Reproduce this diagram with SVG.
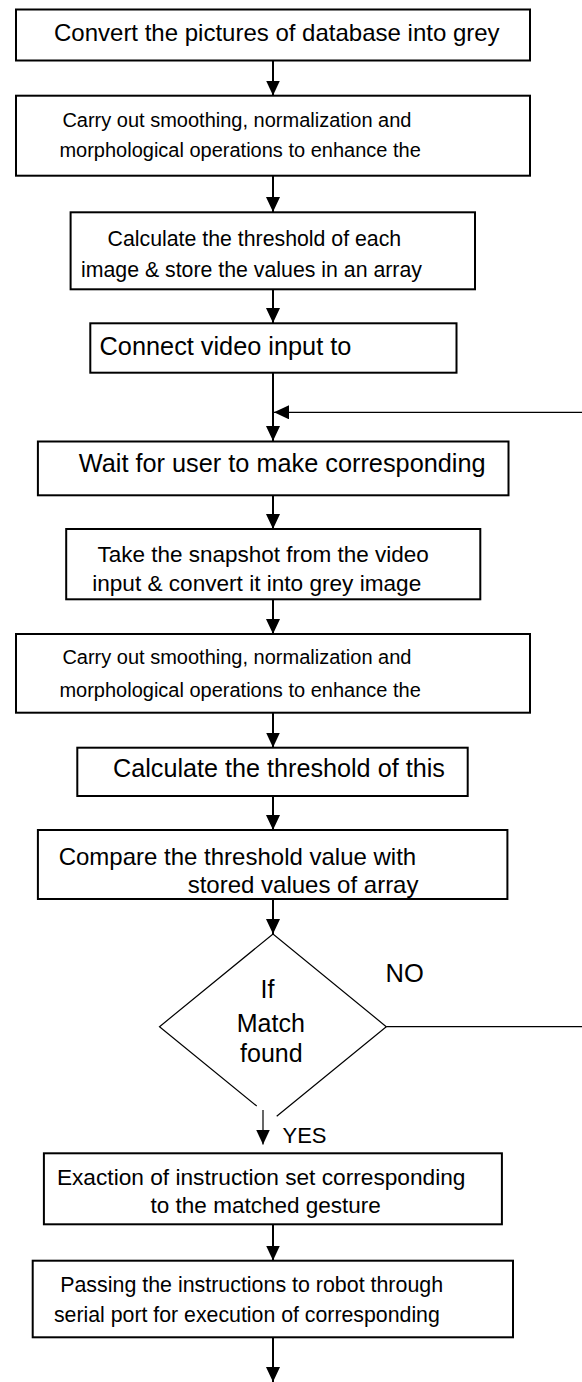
<svg xmlns="http://www.w3.org/2000/svg" width="582" height="1382" viewBox="0 0 582 1382">
<style>
.box{fill:#fff;stroke:#000;stroke-width:2}
.t{font-family:"Liberation Sans",Arial,sans-serif;fill:#000}
.c{stroke:#000;stroke-width:2;fill:none}
.thin{stroke:#000;stroke-width:1.2;fill:none}
</style>
<defs>
<marker id="ah" markerUnits="userSpaceOnUse" markerWidth="15" markerHeight="14" refX="15" refY="7" orient="auto" viewBox="0 0 15 14">
<path d="M0,0 L15,7 L0,14 z" fill="#000"/>
</marker>
</defs>
<rect width="582" height="1382" fill="#fff"/>
<g id="connectors">
<line class="c" x1="273" y1="61" x2="273" y2="95.5" marker-end="url(#ah)"/>
<line class="c" x1="273" y1="176" x2="273" y2="212" marker-end="url(#ah)"/>
<line class="c" x1="273" y1="289.5" x2="273" y2="323" marker-end="url(#ah)"/>
<line class="c" x1="273" y1="373" x2="273" y2="441" marker-end="url(#ah)"/>
<line class="thin" x1="582" y1="412.3" x2="274" y2="412.3" marker-end="url(#ah)"/>
<line class="c" x1="273" y1="495.5" x2="273" y2="529" marker-end="url(#ah)"/>
<line class="c" x1="273" y1="599.5" x2="273" y2="634" marker-end="url(#ah)"/>
<line class="c" x1="273" y1="713" x2="273" y2="747.5" marker-end="url(#ah)"/>
<line class="c" x1="273" y1="796" x2="273" y2="830" marker-end="url(#ah)"/>
<line class="c" x1="273" y1="899" x2="273" y2="934" marker-end="url(#ah)"/>
<line class="thin" x1="386.3" y1="1026.7" x2="582" y2="1026.7"/>
<line class="thin" x1="263" y1="1110" x2="263" y2="1144.5" marker-end="url(#ah)"/>
<line class="c" x1="273" y1="1224.5" x2="273" y2="1260.5" marker-end="url(#ah)"/>
<line class="c" x1="273" y1="1337.5" x2="273" y2="1382" marker-end="url(#ah)"/>
</g>
<g id="n1"><rect class="box" x="16" y="9.5" width="514" height="51"/>
<text class="t" x="54" y="40.7" font-size="24">Convert the pictures of database into grey</text></g>
<g id="n2"><rect class="box" x="16" y="95.7" width="514" height="80"/>
<text class="t" x="62.4" y="126.7" font-size="20">Carry out smoothing, normalization and</text>
<text class="t" x="59.4" y="156.7" font-size="20">morphological operations to enhance the</text></g>
<g id="n3"><rect class="box" x="70.6" y="212.3" width="404.4" height="77"/>
<text class="t" x="107.6" y="245.7" font-size="21.3">Calculate the threshold of each</text>
<text class="t" x="81" y="277.3" font-size="21.3">image &amp; store the values in an array</text></g>
<g id="n4"><rect class="box" x="90.3" y="323.3" width="366.2" height="49.4"/>
<text class="t" x="99.6" y="355" font-size="25.3">Connect video input to</text></g>
<g id="n5"><rect class="box" x="37.9" y="441.5" width="470.6" height="53.8"/>
<text class="t" x="78.8" y="472" font-size="25.3">Wait for user to make corresponding</text></g>
<g id="n6"><rect class="box" x="66.2" y="529" width="414.1" height="70.3"/>
<text class="t" x="97.4" y="561.7" font-size="22.5">Take the snapshot from the video</text>
<text class="t" x="92.2" y="590.7" font-size="22.6">input &amp; convert it into grey image</text></g>
<g id="n7"><rect class="box" x="16" y="634" width="514" height="78.7"/>
<text class="t" x="62.4" y="664" font-size="20">Carry out smoothing, normalization and</text>
<text class="t" x="59.4" y="696.7" font-size="20">morphological operations to enhance the</text></g>
<g id="n8"><rect class="box" x="77.3" y="747.7" width="390.4" height="48.3"/>
<text class="t" x="113" y="776.7" font-size="25.2">Calculate the threshold of this</text></g>
<g id="n9"><rect class="box" x="37.9" y="830" width="469.5" height="69"/>
<text class="t" x="58.7" y="865" font-size="24">Compare the threshold value with</text>
<text class="t" x="187.7" y="892.7" font-size="24">stored values of array</text></g>
<g id="n10">
<polyline class="thin" points="256.7,1106 159.5,1026.7 273,934 386.3,1026.7 276.7,1116.3"/>
<text class="t" x="267.5" y="998.3" font-size="25" text-anchor="middle">If</text>
<text class="t" x="270.8" y="1031.7" font-size="25" text-anchor="middle">Match</text>
<text class="t" x="271.4" y="1061.7" font-size="25" text-anchor="middle">found</text></g>
<g id="lbl-no"><text class="t" x="385.5" y="981.7" font-size="25.5">NO</text></g>
<g id="lbl-yes"><text class="t" x="282.5" y="1143.3" font-size="22">YES</text></g>
<g id="n11"><rect class="box" x="43.9" y="1153.3" width="458" height="71"/>
<text class="t" x="56.9" y="1185" font-size="22.7">Exaction of instruction set corresponding</text>
<text class="t" x="150.6" y="1213.3" font-size="22.5">to the matched gesture</text></g>
<g id="n12"><rect class="box" x="32.7" y="1260.7" width="480.3" height="76.6"/>
<text class="t" x="60.2" y="1291.7" font-size="21.4">Passing the instructions to robot through</text>
<text class="t" x="53.9" y="1321.7" font-size="21.3">serial port for execution of corresponding</text></g>
</svg>
